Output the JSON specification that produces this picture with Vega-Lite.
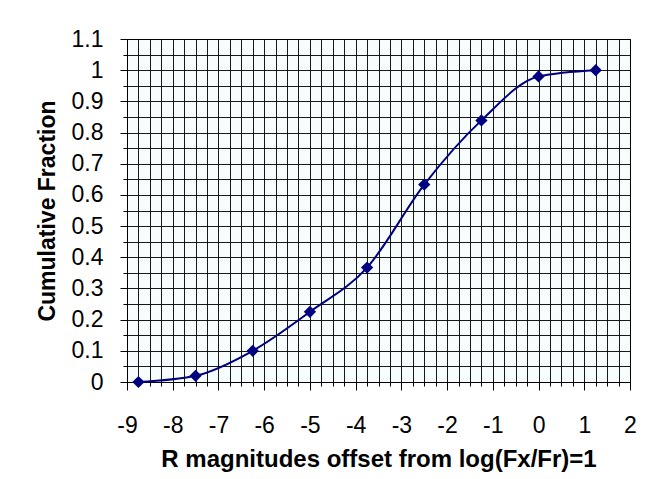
{
  "$schema": "https://vega.github.io/schema/vega-lite/v6.json",
  "width": 503,
  "height": 343,
  "autosize": {"type": "none"},
  "padding": {"left": 127, "top": 39, "right": 17, "bottom": 97},
  "background": "white",
  "config": {
    "view": {"fill": "#f7fdfd", "stroke": "#000000", "strokeWidth": 1},
    "font": "Liberation Sans"
  },
  "data": {
    "values": [
      {"offset": -8.75, "fraction": 0.0},
      {"offset": -7.5, "fraction": 0.02},
      {"offset": -6.25, "fraction": 0.1},
      {"offset": -5.0, "fraction": 0.225},
      {"offset": -3.75, "fraction": 0.367},
      {"offset": -2.5, "fraction": 0.633},
      {"offset": -1.25, "fraction": 0.839},
      {"offset": 0.0, "fraction": 0.98},
      {"offset": 1.25, "fraction": 1.0}
    ]
  },
  "encoding": {
    "x": {
      "field": "offset",
      "type": "quantitative",
      "scale": {"domain": [-9, 2], "nice": false, "zero": false},
      "axis": {
        "title": "R magnitudes offset from log(Fx/Fr)=1",
        "titleFont": "Liberation Sans",
        "titleFontSize": 24,
        "titleFontWeight": "bold",
        "titleColor": "#000000",
        "titlePadding": 10,
        "values": [-9, -8.75, -8.5, -8.25, -8, -7.75, -7.5, -7.25, -7, -6.75, -6.5, -6.25, -6, -5.75, -5.5, -5.25, -5, -4.75, -4.5, -4.25, -4, -3.75, -3.5, -3.25, -3, -2.75, -2.5, -2.25, -2, -1.75, -1.5, -1.25, -1, -0.75, -0.5, -0.25, 0, 0.25, 0.5, 0.75, 1, 1.25, 1.5, 1.75, 2],
        "labelExpr": "datum.value % 1 === 0 ? '' + datum.value : ''",
        "labelFontSize": 23,
        "labelColor": "#000000",
        "labelPadding": 24,
        "labelFlush": false,
        "labelOverlap": false,
        "tickColor": "#000000",
        "tickSize": {"condition": {"test": "datum.value % 1 === 0", "value": 8}, "value": 4},
        "domainColor": "#000000",
        "grid": true,
        "gridColor": "#000000",
        "gridOpacity": 0.9,
        "gridWidth": 1
      }
    },
    "y": {
      "field": "fraction",
      "type": "quantitative",
      "scale": {"domain": [0, 1.1], "nice": false},
      "axis": {
        "title": "Cumulative Fraction",
        "titleFont": "Liberation Sans",
        "titleFontSize": 23,
        "titleFontWeight": "bold",
        "titleColor": "#000000",
        "titlePadding": 12,
        "values": [0, 0.05, 0.1, 0.15, 0.2, 0.25, 0.3, 0.35, 0.4, 0.45, 0.5, 0.55, 0.6, 0.65, 0.7, 0.75, 0.8, 0.85, 0.9, 0.95, 1, 1.05, 1.1],
        "labelExpr": "round(datum.value * 100) % 10 === 0 ? '' + datum.value : ''",
        "labelFontSize": 23,
        "labelColor": "#000000",
        "labelPadding": 17,
        "labelFlush": false,
        "labelOverlap": false,
        "tickColor": "#000000",
        "tickSize": {"condition": {"test": "round(datum.value * 100) % 10 === 0", "value": 7}, "value": 4},
        "domainColor": "#000000",
        "grid": true,
        "gridColor": "#000000",
        "gridOpacity": 0.9,
        "gridWidth": 1
      }
    }
  },
  "layer": [
    {
      "mark": {"type": "line", "interpolate": "monotone", "color": "#000080", "strokeWidth": 2}
    },
    {
      "mark": {"type": "point", "shape": "diamond", "filled": true, "color": "#000080", "opacity": 1, "size": 150}
    }
  ]
}
